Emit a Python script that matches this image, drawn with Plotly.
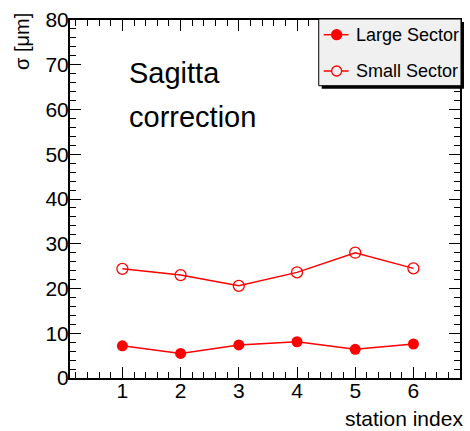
import plotly.graph_objects as go

station = [1, 2, 3, 4, 5, 6]
large_sector = [7.2, 5.5, 7.4, 8.1, 6.4, 7.6]
small_sector = [24.4, 23.0, 20.6, 23.6, 28.0, 24.5]
series_names = ["Large Sector", "Small Sector"]

FONT = "Liberation Sans, Arial, sans-serif"
W, H = 470, 431
L, R, T, B = 70, 8, 13, 53
RED = "#ff0000"

fig = go.Figure()
fig.add_trace(go.Scatter(
    x=station, y=large_sector, mode="lines+markers", name=series_names[0],
    line=dict(color=RED, width=1.5),
    marker=dict(symbol="circle", size=11, color=RED)))
fig.add_trace(go.Scatter(
    x=station, y=small_sector, mode="lines+markers", name=series_names[1],
    line=dict(color=RED, width=1.5),
    marker=dict(symbol="circle-open", size=11, color=RED, line=dict(width=1.3))))

pw = W - L - R
ph = H - T - B
def px_x(p):
    return (p - L) / pw
def px_y(p):
    return (H - B - p) / ph

shapes = []
annotations = []
# legend box with shadow
lx0, ly0, lx1, ly1 = 320, 12, 463, 80
shapes.append(dict(type="rect", xref="paper", yref="paper",
                   x0=px_x(lx0 + 3), x1=px_x(lx1 + 3), y0=px_y(ly1 + 3), y1=px_y(ly0 + 3),
                   fillcolor="black", line=dict(width=0), layer="above"))
shapes.append(dict(type="rect", xref="paper", yref="paper",
                   x0=px_x(lx0), x1=px_x(lx1), y0=px_y(ly1), y1=px_y(ly0),
                   fillcolor="#f0f0f0", line=dict(color="black", width=1), layer="above"))
for i, (name, filled) in enumerate(zip(series_names, [True, False])):
    yc = 28 + i * 37
    shapes.append(dict(type="line", xref="paper", yref="paper",
                       x0=px_x(325), x1=px_x(350), y0=px_y(yc), y1=px_y(yc),
                       line=dict(color=RED, width=1.5), layer="above"))
    shapes.append(dict(type="circle", xref="paper", yref="paper",
                       xsizemode="pixel", ysizemode="pixel",
                       xanchor=px_x(338), yanchor=px_y(yc),
                       x0=-5, x1=5, y0=-5, y1=5,
                       fillcolor=RED if filled else "#f0f0f0",
                       line=dict(color=RED, width=1.3), layer="above"))
    annotations.append(dict(text=name, x=px_x(355), y=px_y(yc), xref="paper", yref="paper",
                            xanchor="left", yanchor="middle", showarrow=False,
                            font=dict(size=18, family=FONT, color="black")))

annotations += [
    dict(text="Sagitta", x=px_x(127), y=px_y(67), xref="paper", yref="paper",
         xanchor="left", yanchor="middle", showarrow=False, font=dict(size=29, family=FONT)),
    dict(text="correction", x=px_x(127), y=px_y(112), xref="paper", yref="paper",
         xanchor="left", yanchor="middle", showarrow=False, font=dict(size=29, family=FONT)),
    dict(text="station index", x=px_x(467), y=px_y(419), xref="paper", yref="paper",
         xanchor="right", yanchor="middle", showarrow=False, font=dict(size=21, family=FONT)),
    dict(text="σ [μm]", x=px_x(21), y=px_y(4), xref="paper", yref="paper",
         xanchor="center", yanchor="top", textangle=-90, showarrow=False,
         font=dict(size=20, family=FONT)),
]

fig.update_layout(
    width=W, height=H,
    margin=dict(l=L, r=R, t=T, b=B, pad=0),
    paper_bgcolor="white", plot_bgcolor="white",
    font=dict(family=FONT, color="black"),
    showlegend=False,
    xaxis=dict(
        range=[0.1, 6.8], tick0=0, dtick=1, ticks="inside", ticklen=11, tickwidth=1,
        tickcolor="black", showline=True, linecolor="black", linewidth=2,
        mirror="allticks", showgrid=False, zeroline=False,
        tickfont=dict(size=21, family=FONT), ticklabelstandoff=-7,
        minor=dict(dtick=0.2, tick0=0, ticks="inside", ticklen=6, tickcolor="black", showgrid=False),
    ),
    yaxis=dict(
        range=[0, 80], tick0=0, dtick=10, ticks="inside", ticklen=11, tickwidth=1,
        tickcolor="black", showline=True, linecolor="black", linewidth=2,
        mirror="allticks", showgrid=False, zeroline=False,
        tickfont=dict(size=21, family=FONT), ticklabelstandoff=-5,
        minor=dict(dtick=2, tick0=0, ticks="inside", ticklen=6, tickcolor="black", showgrid=False),
    ),
    shapes=shapes,
    annotations=annotations,
)

fig.write_html("out.html")
